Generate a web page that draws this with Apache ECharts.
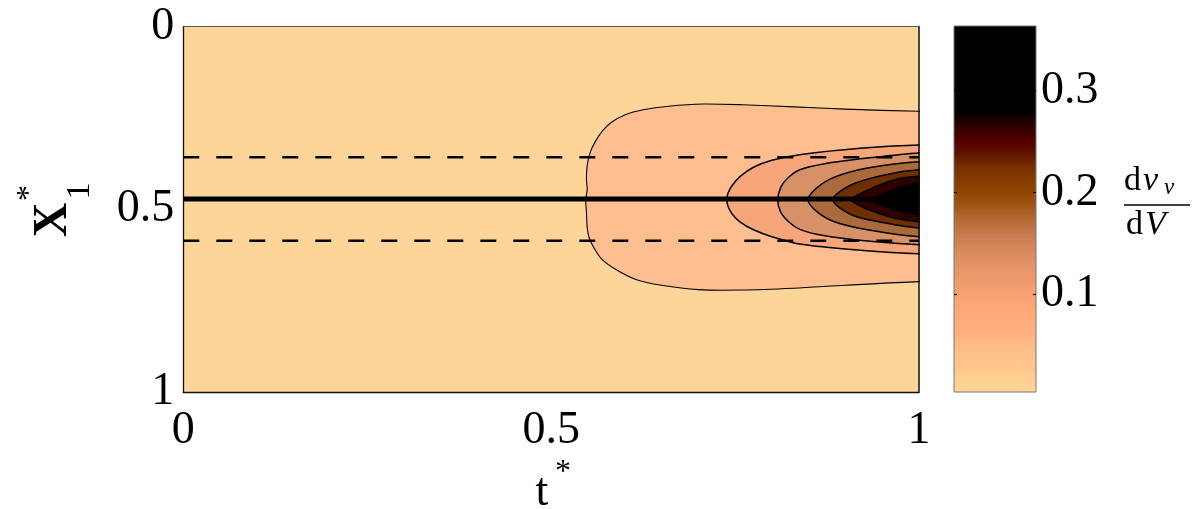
<!DOCTYPE html>
<html>
<head>
<meta charset="utf-8">
<script src="https://cdn.jsdelivr.net/npm/echarts@6/dist/echarts.min.js"></script>
<style>
  html, body { margin: 0; padding: 0; background: #fff; }
  #chart { width: 1203px; height: 509px; }
</style>
</head>
<body>
<div id="chart"></div>
<script>
// ---------- data ----------
const xTicks = [0, 0.5, 1];          // t*
const yTicks = [0, 0.5, 1];          // X1*
const cbTicks = [0.1, 0.2, 0.3];     // colorbar
const cbMin = 0.004, cbMax = 0.3635; // colorbar range (dv_v/dV)

// contour boundaries (t*, X1*), outermost first; each open on the right edge t*=1
const contour1 = [[1.00,0.232],[0.90,0.226],[0.83,0.220],[0.76,0.214],[0.707,0.212],[0.66,0.218],[0.625,0.228],[0.60,0.242],[0.582,0.262],[0.570,0.285],[0.560,0.315],[0.553,0.345],[0.549,0.38],[0.548,0.42],[0.549,0.445],[0.547,0.475],[0.548,0.51],[0.549,0.55],[0.552,0.58],[0.558,0.605],[0.568,0.635],[0.588,0.665],[0.615,0.692],[0.65,0.708],[0.70,0.72],[0.76,0.721],[0.83,0.716],[0.90,0.708],[1.00,0.698]];
const contour2 = [[1.00,0.324],[0.92,0.333],[0.84,0.350],[0.80,0.366],[0.775,0.385],[0.757,0.41],[0.746,0.435],[0.740,0.458],[0.739,0.474],[0.740,0.49],[0.746,0.513],[0.757,0.535],[0.775,0.556],[0.80,0.575],[0.84,0.596],[0.92,0.612],[1.00,0.622]];
const contour3 = [[1.00,0.346],[0.93,0.360],[0.87,0.376],[0.838,0.392],[0.822,0.414],[0.812,0.44],[0.808,0.476],[0.812,0.508],[0.822,0.533],[0.838,0.555],[0.87,0.572],[0.93,0.587],[1.00,0.597]];
const contour4 = [[1.00,0.370],[0.93,0.387],[0.885,0.412],[0.862,0.44],[0.849,0.474],[0.862,0.508],[0.885,0.534],[0.93,0.556],[1.00,0.575]];
const contour5 = [[1.00,0.392],[0.953,0.406],[0.908,0.433],[0.883,0.474],[0.908,0.515],[0.953,0.537],[1.00,0.551]];
const contour6 = [[1.00,0.410],[0.966,0.420],[0.931,0.447],[0.908,0.474],[0.931,0.501],[0.966,0.524],[1.00,0.534]];
const contour7 = [[1.00,0.428],[0.966,0.446],[0.937,0.474],[0.966,0.501],[1.00,0.515]];
const contours = [contour1, contour2, contour3, contour4, contour5, contour6, contour7];

const centerLine = 0.472;            // solid line X1*
const boundaryLines = [0.358, 0.586]; // dashed lines X1*

// ---------- styles ----------
const levelColors = ['#FEBE90', '#F7A67C', '#D89166', '#AB6A3C', '#6E3002', '#2E0000', '#000000'];
const bgColor = '#FDD598';
const cbStopValues = [0.004, 0.025, 0.042, 0.063, 0.081, 0.1, 0.123, 0.14, 0.157, 0.173, 0.188, 0.2, 0.212, 0.225, 0.237, 0.249, 0.261, 0.273, 0.277, 0.3635];
const cbStopColors = ['#FFD898', '#FFC98C', '#FFC088', '#FFB07C', '#FFA878', '#F8A070', '#E89668', '#D88C60', '#C87C50', '#B46A34', '#9F5414', '#904600', '#853C00', '#753000', '#601600', '#580000', '#3A0000', '#180000', '#000000', '#000000'];

const SERIF = '"Liberation Serif", "Times New Roman", serif';

const chart = echarts.init(document.getElementById('chart'), null, { renderer: 'canvas' });

function txt(x, y, text, font, opts) {
  opts = opts || {};
  return {
    type: 'text', x: x, y: y, rotation: opts.rotation || 0, z: 100,
    style: {
      text: text, font: font, fill: '#000',
      align: opts.align || 'center', textAlign: opts.align || 'center',
      verticalAlign: 'middle', textVerticalAlign: 'middle'
    }
  };
}

const option = {
  animation: false,
  backgroundColor: '#ffffff',
  grid: [
    { left: 183.3, top: 26.5, width: 735.7, height: 365.5, show: true, backgroundColor: bgColor, borderWidth: 0 },
    { left: 954, top: 26, width: 82, height: 366, show: false }
  ],
  xAxis: [
    { type: 'value', gridIndex: 0, position: 'bottom', min: 0, max: 1, interval: 0.5, z: 10,
      axisLine: { show: true, onZero: false, lineStyle: { color: '#111', width: 1.3 } },
      axisTick: { show: false }, splitLine: { show: false },
      axisLabel: { margin: 16, color: '#000', fontFamily: SERIF, fontSize: 46,
        formatter: v => (v === 0.5 ? '0.5' : String(v)) } },
    { type: 'value', gridIndex: 0, position: 'top', min: 0, max: 1, z: 10,
      axisLine: { show: true, onZero: false, lineStyle: { color: '#555', width: 1.2 } },
      axisTick: { show: false }, axisLabel: { show: false }, splitLine: { show: false } },
    { type: 'value', gridIndex: 1, min: 0, max: 1, show: false }
  ],
  yAxis: [
    { type: 'value', gridIndex: 0, position: 'left', inverse: true, min: 0, max: 1, interval: 0.5, z: 10,
      axisLine: { show: true, onZero: false, lineStyle: { color: '#111', width: 1.3 } },
      axisTick: { show: false }, splitLine: { show: false },
      axisLabel: { margin: 9, color: '#000', fontFamily: SERIF, fontSize: 46, padding: [6, 0, 0, 0],
        formatter: v => (v === 0.5 ? '0.5' : String(v)) } },
    { type: 'value', gridIndex: 0, position: 'right', inverse: true, min: 0, max: 1, z: 10,
      axisLine: { show: true, onZero: false, lineStyle: { color: '#111', width: 1.5 } },
      axisTick: { show: false }, axisLabel: { show: false }, splitLine: { show: false } },
    { type: 'value', gridIndex: 1, position: 'right', min: cbMin, max: cbMax, z: 10,
      axisLine: { show: false, onZero: false },
      axisTick: { show: true, inside: true, length: 3, customValues: cbTicks, lineStyle: { color: '#000', width: 1.2 } },
      splitLine: { show: false },
      axisLabel: { customValues: cbTicks, margin: 5, color: '#000', fontFamily: SERIF, fontSize: 46, padding: [3, 0, 0, 0],
        formatter: v => Number(v).toFixed(1) } },
    { type: 'value', gridIndex: 1, position: 'left', min: cbMin, max: cbMax, z: 10,
      axisLine: { show: false, onZero: false },
      axisTick: { show: true, inside: true, length: 3, customValues: cbTicks, lineStyle: { color: '#000', width: 1.2 } },
      axisLabel: { show: false }, splitLine: { show: false } }
  ],
  series: [
    {
      type: 'custom', xAxisIndex: 0, yAxisIndex: 0, clip: true, silent: true, z: 2,
      data: contours.map((c, i) => [i]),
      renderItem: function (params, api) {
        const i = params.dataIndex;
        const pts = contours[i].map(p => api.coord(p));
        const first = pts[0], last = pts[pts.length - 1];
        pts.unshift([first[0] + 40, first[1]]);
        pts.push([last[0] + 40, last[1]]);
        return {
          type: 'polygon', z2: i,
          shape: { points: pts, smooth: 0.3 },
          style: { fill: levelColors[i], stroke: '#000', lineWidth: i === 0 ? 1.1 : 1.5 }
        };
      }
    },
    {
      type: 'line', xAxisIndex: 0, yAxisIndex: 0, symbol: 'none', silent: true, z: 4,
      data: [[xTicks[0], centerLine], [xTicks[xTicks.length - 1], centerLine]],
      lineStyle: { color: '#000', width: 4.8, cap: 'butt' }
    },
    ...boundaryLines.map(b => ({
      type: 'line', xAxisIndex: 0, yAxisIndex: 0, symbol: 'none', silent: true, z: 4,
      data: [[xTicks[0], b], [xTicks[xTicks.length - 1], b]],
      lineStyle: { color: '#000', width: 2.5, type: [16, 17], cap: 'butt' }
    })),
    {
      type: 'custom', xAxisIndex: 2, yAxisIndex: 2, silent: true, z: 2,
      data: [[0]],
      renderItem: function (params, api) {
        const tl = api.coord([0, cbMax]);
        const br = api.coord([1, cbMin]);
        const shape = { x: tl[0], y: tl[1], width: br[0] - tl[0], height: br[1] - tl[1] };
        const stops = cbStopValues.map((v, k) => ({ offset: (v - cbMin) / (cbMax - cbMin), color: cbStopColors[k] }));
        return {
          type: 'group', children: [
            { type: 'rect', shape: shape, style: { fill: { type: 'linear', x: 0, y: 1, x2: 0, y2: 0, colorStops: stops } } },
            { type: 'rect', shape: shape, style: { fill: 'none', stroke: '#777', lineWidth: 1 } }
          ]
        };
      }
    }
  ],
  graphic: [
    // y-axis title X1*
    txt(54, 220, 'X', 'bold 48px ' + SERIF, { rotation: Math.PI / 2 }),
    txt(80, 191, '1', '34px ' + SERIF, { rotation: Math.PI / 2 }),
    txt(30, 193, '*', '32px ' + SERIF, { rotation: Math.PI / 2 }),
    // x-axis title t*
    txt(542, 493, 't', '46px ' + SERIF),
    txt(563, 473, '*', '32px ' + SERIF),
    // colorbar label dv_v / dV
    txt(1124, 181, 'd', '34px ' + SERIF, { align: 'left' }),
    txt(1143, 181, 'v', 'italic 34px ' + SERIF, { align: 'left' }),
    txt(1164, 188, 'v', 'italic 23px ' + SERIF, { align: 'left' }),
    { type: 'line', z: 100, shape: { x1: 1124, y1: 205, x2: 1190, y2: 205 }, style: { stroke: '#000', lineWidth: 1.6 } },
    txt(1126, 225, 'd', '34px ' + SERIF, { align: 'left' }),
    txt(1145, 225, 'V', 'italic 34px ' + SERIF, { align: 'left' })
  ]
};

chart.setOption(option);
</script>
</body>
</html>
